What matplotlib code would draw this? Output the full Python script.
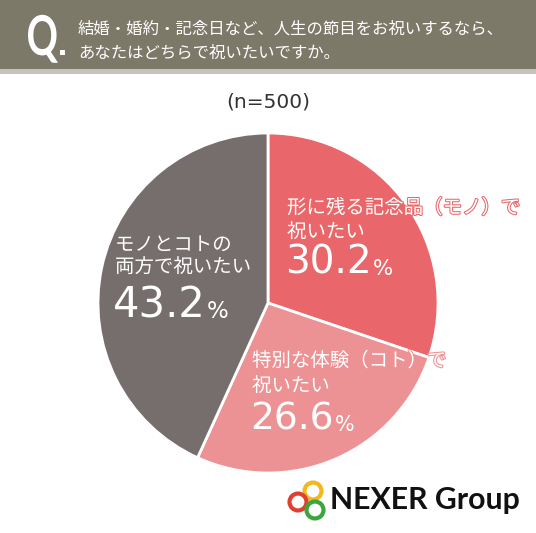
import matplotlib.pyplot as plt
import matplotlib.patheffects as pe
from matplotlib.patches import Rectangle, Circle, PathPatch
from matplotlib.textpath import TextPath
from matplotlib.font_manager import FontProperties
from matplotlib.transforms import Affine2D, IdentityTransform

plt.rcParams['font.family'] = ['Noto Sans CJK JP', 'DejaVu Sans']

# ---------------- DATA ----------------
question = ["結婚・婚約・記念日など、人生の節目をお祝いするなら、",
            "あなたはどちらで祝いたいですか。"]
sample = "(n=500)"
labels = [["形に残る記念品（モノ）で", "祝いたい"],
          ["特別な体験（コト）で", "祝いたい"],
          ["モノとコトの", "両方で祝いたい"]]
values = [30.2, 26.6, 43.2]
colors = ["#e9676a", "#ed9294", "#756e6c"]

W, H = 536, 533
fig = plt.figure(figsize=(W / 100, H / 100), dpi=100)
fig.patch.set_facecolor("white")


def fx(x):
    return x / W


def fy(y):
    return 1 - y / H


# ---------------- HEADER ----------------
fig.patches.append(Rectangle((0, fy(69)), 1, 69 / H, transform=fig.transFigure,
                             facecolor="#7c7969", edgecolor="none"))
fig.patches.append(Rectangle((0, fy(74)), 1, 5 / H, transform=fig.transFigure,
                             facecolor="#c6c3ba", edgecolor="none"))
# narrow bold "Q": squeeze a text path horizontally
qpath = TextPath((0, 0), "Q", size=55, prop=FontProperties(family="Lato", weight="bold"))
qext = qpath.get_extents()
qtr = Affine2D().translate(-qext.x0, 0).scale(30 / qext.width, 1).translate(28, H - 55)
fig.patches.append(PathPatch(qtr.transform_path(qpath), transform=IdentityTransform(),
                             facecolor="white", edgecolor="none"))
fig.patches.append(Rectangle((fx(60), fy(55)), 5 / W, 5 / H, transform=fig.transFigure,
                             facecolor="white", edgecolor="none"))
fig.text(fx(78), fy(29), question[0], color="white", fontsize=11.8, va="center")
fig.text(fx(78), fy(53), question[1], color="white", fontsize=11.8, va="center")

fig.text(0.5, fy(102), sample, color="#333333", fontsize=14.5, ha="center", va="center",
         family="DejaVu Sans")

# ---------------- PIE ----------------
cx, cy, r = 268, 303, 170
ax = fig.add_axes([fx(cx - r), fy(cy + r), 2 * r / W, 2 * r / H])
ax.pie(values, colors=colors, startangle=90, counterclock=False,
       wedgeprops=dict(edgecolor="white", linewidth=2))
ax.set_xlim(-1, 1)
ax.set_ylim(-1, 1)
ax.axis("off")

label_pos = [(287, 208, 232, 263), (252, 361, 386, 419), (115, 245, 267, 305)]
num_size = [28, 27, 30]
fig.canvas.draw()
for lab, val, col, pos, ns in zip(labels, values, colors, label_pos, num_size):
    x, y1, y2, y3 = pos
    stroke = [pe.withStroke(linewidth=1.5, foreground=col)]
    fig.text(fx(x), fy(y1), lab[0], color="white", fontsize=14, va="center",
             path_effects=stroke)
    fig.text(fx(x), fy(y2), lab[1], color="white", fontsize=14, va="center",
             path_effects=stroke)
    t = fig.text(fx(x - 2), fy(y3), f"{val:.1f}", color="white", fontsize=ns,
                 va="center", family="DejaVu Sans")
    bb = t.get_window_extent(renderer=fig.canvas.get_renderer())
    fig.text(bb.x1 / W + 1 / W, fy(y3 + 6), "%", color="white", fontsize=ns * 0.55,
             va="center", family="DejaVu Sans")

# ---------------- LOGO ----------------
for (rx, ry), rc in zip([(313, 491), (298, 502), (315, 510)],
                        ["#f2b822", "#e0402f", "#3aa63c"]):
    fig.patches.append(Circle((fx(rx), fy(ry)), 8.5 / W, transform=fig.transFigure,
                              facecolor="none", edgecolor=rc, linewidth=3))
logo = fig.text(fx(330), fy(500), "NEXER Group", color="#111111", fontsize=21,
                fontweight="bold", family="Lato", va="center")
lw = logo.get_window_extent(renderer=fig.canvas.get_renderer()).width
logo.set_fontsize(21 * 190 / lw)

fig.savefig("out.png", dpi=100)
